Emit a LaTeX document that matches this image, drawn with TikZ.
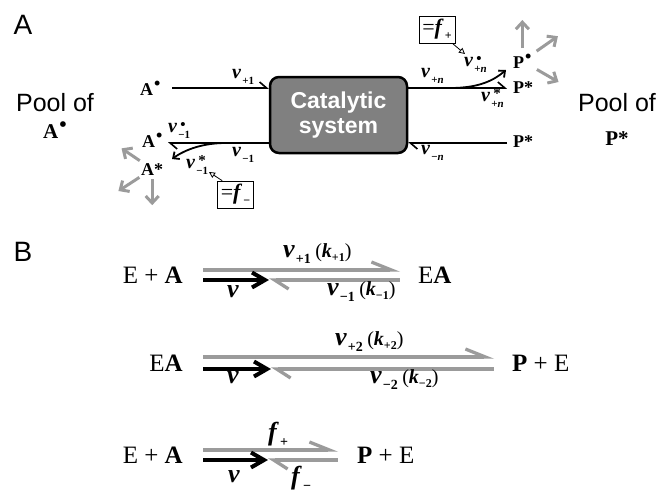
\documentclass[tikz,border=0pt]{standalone}
\usepackage{fontspec}
\setmainfont{Liberation Serif}
\setsansfont{Liberation Sans}
\usetikzlibrary{positioning,arrows.meta}

\definecolor{boxgray}{RGB}{128,128,128}
\definecolor{flowgray}{RGB}{155,155,155}

% sizes of the small scripts, reset by the label styles
\def\subfont{\small}
\def\supfont{\normalsize}
\def\subdrop{5pt}
\def\suprise{8pt}
\newcommand{\velo}[1]{\textbf{\textit{v}}\kern1pt\raisebox{-\subdrop}{\subfont\bfseries #1}}
\newcommand{\velos}[2]{\textbf{\textit{v}}\kern1pt\makebox[0pt][l]{\kern2pt\raisebox{\suprise}{\supfont\bfseries #2}}\raisebox{-\subdrop}{\subfont\bfseries #1}}
\newcommand{\specd}[1]{\textbf{#1}\kern1pt\raisebox{.3em}{\bfseries •}}
\newcommand{\specs}[1]{\textbf{#1*}}
\newcommand{\kk}[1]{{\fontsize{20}{20}\selectfont(\textbf{\textit{k}}\raisebox{-4pt}{\fontsize{12}{12}\selectfont\bfseries #1})}}
\newcommand{\ff}[1]{\textbf{\textit{f}}\kern1pt\raisebox{-\subdrop}{\subfont\bfseries #1}}

\begin{document}
\begin{tikzpicture}[x=1pt, y=1pt,
    every node/.style={inner sep=0pt},
    panel/.style={font=\sffamily\fontsize{28}{28}\selectfont},
    pooltext/.style={font=\sffamily\fontsize{25}{25}\selectfont, anchor=base},
    poolspec/.style={font=\fontsize{21}{21}\selectfont, anchor=base},
    spc/.style={font=\fontsize{18}{18}\selectfont, anchor=base west},
    vtop/.style={font=\fontsize{20}{20}\selectfont\def\subfont{\fontsize{11}{11}\selectfont}\def\supfont{\fontsize{15}{15}\selectfont}\def\subdrop{6pt}\def\suprise{3pt},
      anchor=base west},
    catbox/.style={draw, line width=2.5pt, fill=boxgray, rounded corners=9pt,
      minimum width=137pt, minimum height=76pt, text=white, align=center,
      font=\sffamily\bfseries\fontsize{23}{25}\selectfont},
    flux/.style={line width=1.6pt},
    harp/.style={-{Straight Barb[left, length=7pt, width=12pt]}},
    curl/.style={line width=1.8pt, -{Straight Barb[length=5pt, width=9pt]}},
    spread/.style={draw=flowgray, line width=3pt, -{Straight Barb[length=7pt, width=13pt]}},
    eqbox/.style={draw, line width=0.7pt, minimum width=36pt, minimum height=27pt,
      font=\fontsize{22}{22}\selectfont\def\subfont{\fontsize{12}{12}\selectfont}\def\subdrop{5pt}},
    pointer/.style={line width=0.8pt, -{Triangle[open, length=6pt, width=6pt]}},
    chem/.style={font=\fontsize{25}{25}\selectfont},
    vbot/.style={font=\fontsize{26}{26}\selectfont\def\subfont{\fontsize{14}{14}\selectfont}\def\subdrop{6pt},
      anchor=base west},
    fwd/.style={draw=flowgray, line width=3.3pt, -{Straight Barb[left, length=20pt, width=16pt]}},
    bwd/.style={draw=flowgray, line width=3.3pt, {Straight Barb[left, length=14pt, width=18pt]}-},
    drive/.style={line width=4pt, -{Straight Barb[length=13pt, width=15pt]}}
  ]
  \useasboundingbox (0,0) rectangle (661,-493);

  % panel A
  \node[panel] (pa) at (23,-25) {A};
  \node[pooltext] (poolA) at (55,-111) {Pool of};
  \node[poolspec] (poolAs) at (55,-138) {\specd{A}};
  \node[pooltext] (poolP) at (617,-111) {Pool of};
  \node[poolspec] (poolPs) at (617,-145) {\specs{P}};

  \node[catbox] (cat) at (338.5,-115) {Catalytic\\system};

  \node[spc] (a1) at (140,-95) {\specd{A}};
  \node[spc] (a2) at (142,-147) {\specd{A}};
  \node[spc] (a3) at (141,-175) {\specs{A}};
  \node[spc] (p1) at (513,-68) {\specd{P}};
  \node[spc] (p2) at (513,-93) {\specs{P}};
  \node[spc] (p3) at (513,-147) {\specs{P}};

  \coordinate (inA) at (172,-88);
  \coordinate (outA) at (168,-143);
  \coordinate (outP) at (507,-88);
  \coordinate (inP) at (507,-143);
  \coordinate (splitA) at (226,-143);
  \coordinate (toAs) at (172,-159);
  \coordinate (splitP) at (450,-88);
  \coordinate (toPd) at (506,-70);

  \draw[flux, harp] (inA) -- (inA -| cat.west);
  \draw[flux, harp] (outA -| cat.west) -- (outA);
  \draw[flux, harp] (cat.east |- outP) -- (outP);
  \draw[flux, harp] (inP) -- (inP -| cat.east);
  \draw[curl] (splitA) .. controls +(-22,0) and +(14,10) .. (toAs);
  \draw[curl] (splitP) .. controls +(30,0) and +(-12,-10) .. (toPd);

  \node[vtop] (v1) at (232,-78) {\velo{+1}};
  \node[vtop] (v2) at (232,-156) {\velo{−1}};
  \node[vtop] (v2d) at (168,-132) {\velos{−1}{•}};
  \node[vtop] (v2s) at (186,-168) {\velos{−1}{*}};
  \node[vtop] (vn) at (421,-77) {\velo{+\textit{n}}};
  \node[vtop] (vnd) at (464,-66) {\velos{+\textit{n}}{•}};
  \node[vtop] (vns) at (481,-101) {\velos{+\textit{n}}{*}};
  \node[vtop] (vmn) at (421,-154) {\velo{−\textit{n}}};

  \node[eqbox] (fp) at (437,-29.5) {=\ff{+}};
  \node[eqbox] (fm) at (235.5,-194.5) {=\ff{−}};
  \coordinate (tipP) at (465,-54);
  \coordinate (tipA) at (209,-172);
  \draw[pointer] ([xshift=-3pt]fp.south east) -- (tipP);
  \draw[pointer] ([xshift=5pt]fm.north west) -- (tipA);

  \foreach \a/\l in {146/22, 213/25, 270/26}
    \draw[spread] (a3.\a) ++(\a:4pt) -- ++(\a:\l pt);
  \foreach \a/\l in {90/28, 35/26, -30/25}
    \draw[spread] (p1.\a) ++(\a:6pt) -- ++(\a:\l pt);

  % panel B
  \node[panel] (pb) at (23,-252) {B};

  \coordinate (s1) at (203,-275);
  \coordinate (k1) at (269,-275);
  \coordinate (e1) at (400,-275);
  \node[chem, left=20pt of s1] (r1) {E + \textbf{A}};
  \node[chem, right=18pt of e1] (q1) {E\textbf{A}};
  \draw[fwd] ([yshift=5pt]s1) -- ([yshift=5pt]e1);
  \draw[bwd] ([yshift=-5pt]k1) -- ([yshift=-5pt]e1);
  \draw[drive] ([yshift=-5pt]s1) -- ([yshift=-5pt]k1);
  \node[vbot] (l1a) at (283,-257) {\velo{+1}\,\kk{+1}};
  \node[vbot] (l1b) at (327,-295) {\velo{−1}\,\kk{−1}};
  \node[vbot] (d1) at (227,-297) {\textbf{\textit{v}}};

  \coordinate (s2) at (203,-363);
  \coordinate (k2) at (271,-363);
  \coordinate (e2) at (494,-363);
  \node[chem, left=20pt of s2] (r2) {E\textbf{A}};
  \node[chem, right=18pt of e2] (q2) {\textbf{P} + E};
  \draw[fwd] ([yshift=6pt]s2) -- ([yshift=6pt]e2);
  \draw[bwd] ([yshift=-6pt]k2) -- ([yshift=-6pt]e2);
  \draw[drive] ([yshift=-6pt]s2) -- ([yshift=-6pt]k2);
  \node[vbot] (l2a) at (335,-345) {\velo{+2}\,\kk{+2}};
  \node[vbot] (l2b) at (370,-383) {\velo{−2}\,\kk{−2}};
  \node[vbot] (d2) at (227,-383) {\textbf{\textit{v}}};

  \coordinate (s3) at (203,-455);
  \coordinate (k3) at (268,-455);
  \coordinate (e3) at (338,-455);
  \node[chem, left=20pt of s3] (r3) {E + \textbf{A}};
  \node[chem, right=19pt of e3] (q3) {\textbf{P} + E};
  \draw[fwd] ([yshift=5pt]s3) -- ([yshift=5pt]e3);
  \draw[bwd] ([yshift=-5pt]k3) -- ([yshift=-5pt]e3);
  \draw[drive] ([yshift=-5pt]s3) -- ([yshift=-5pt]k3);
  \node[vbot] (l3a) at (268,-440) {\ff{+}};
  \node[vbot] (l3b) at (291,-484) {\ff{−}};
  \node[vbot] (d3) at (228,-482) {\textbf{\textit{v}}};
\end{tikzpicture}
\end{document}
